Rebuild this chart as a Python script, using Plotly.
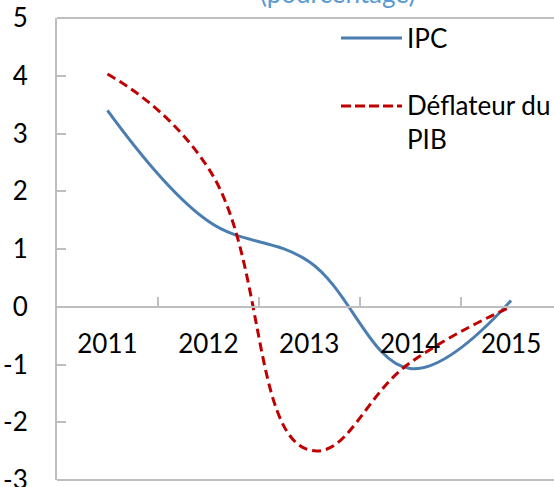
import plotly.graph_objects as go

years = ["2011", "2012", "2013", "2014", "2015"]
ipc = [3.40, 1.48, 0.78, -1.07, 0.11]
deflateur = [4.03, 2.40, -2.48, -0.97, 0.0]
y_ticks = [-3, -2, -1, 0, 1, 2, 3, 4, 5]
y_tick_labels = ["-3", "-2", "-1", "0", "1", "2", "3", "4", "5"]

FONT = "Lato"
FS = 26
BLUE = "#4A7EB0"
RED = "#C00000"
GREY = "#BEBEBE"

W, H = 554, 487
L, R, T, B = 57, 0, 18, 7
PW, PH = W - L - R, H - T - B


def px(x):
    return (x - L) / PW


def py(y):
    return (H - B - y) / PH


fig = go.Figure()
fig.add_trace(go.Scatter(x=years, y=ipc, mode="lines", name="IPC",
                         line=dict(color=BLUE, width=3, shape="spline", smoothing=1.1),
                         showlegend=False))
fig.add_trace(go.Scatter(x=years, y=deflateur, mode="lines", name="Déflateur du PIB",
                         line=dict(color=RED, width=3, shape="spline", smoothing=1.3, dash="9px,5px"),
                         showlegend=False))

spacing = 100.9
fig.update_layout(
    template="none",
    width=W, height=H,
    margin=dict(l=L, r=R, t=T, b=B, pad=0),
    paper_bgcolor="white", plot_bgcolor="white",
    font=dict(family=FONT, size=FS, color="black"),
    xaxis=dict(type="category", categoryarray=years, range=[-0.5, -0.5 + PW / spacing],
               anchor="free", position=3 / 8, showline=True, linecolor=GREY, linewidth=2,
               ticks="inside", tickson="boundaries", ticklen=9, tickwidth=2, tickcolor=GREY,
               ticklabelstandoff=14, showgrid=False, zeroline=False, automargin=False,
               tickfont=dict(family=FONT, size=FS, color="black")),
    yaxis=dict(range=[-3, 5], tickvals=y_ticks, ticktext=y_tick_labels,
               showline=True, linecolor=GREY, linewidth=2,
               ticks="inside", ticklen=9, tickwidth=2, tickcolor=GREY, automargin=False,
               ticklabelstandoff=22, ticklabeloverflow="allow", showgrid=False, zeroline=False,
               tickfont=dict(family=FONT, size=FS, color="black")),
)

# top and bottom plot borders
for yy in (0, 1):
    fig.add_shape(type="line", xref="paper", yref="paper", x0=0, x1=1.01, y0=yy, y1=yy,
                  line=dict(color=GREY, width=2), layer="below")

# manual legend
fig.add_shape(type="line", xref="paper", yref="paper", x0=px(341), x1=px(402), y0=py(38), y1=py(38),
              line=dict(color=BLUE, width=3))
fig.add_shape(type="line", xref="paper", yref="paper", x0=px(341), x1=px(402), y0=py(106), y1=py(106),
              line=dict(color=RED, width=3, dash="10px,4px"))
fig.add_annotation(xref="paper", yref="paper", x=px(405), y=py(38), text="IPC", showarrow=False,
                   xanchor="left", yanchor="middle", align="left",
                   font=dict(family=FONT, size=FS, color="black"))
fig.add_annotation(xref="paper", yref="paper", x=px(405), y=py(122), text="Déflateur du<br>PIB",
                   showarrow=False, xanchor="left", yanchor="middle", align="left",
                   font=dict(family=FONT, size=FS, color="black"))

# title (partially cut at top)
fig.add_annotation(xref="paper", yref="paper", x=px(337.5), y=1, yshift=7, text="(pourcentage)",
                   showarrow=False, xanchor="center", yanchor="bottom",
                   font=dict(family=FONT, size=FS, color="#5B9BD5"))

fig.write_html("out.html", config={"displayModeBar": False},
               post_script="document.body.style.margin='0';document.body.style.overflow='hidden';")
